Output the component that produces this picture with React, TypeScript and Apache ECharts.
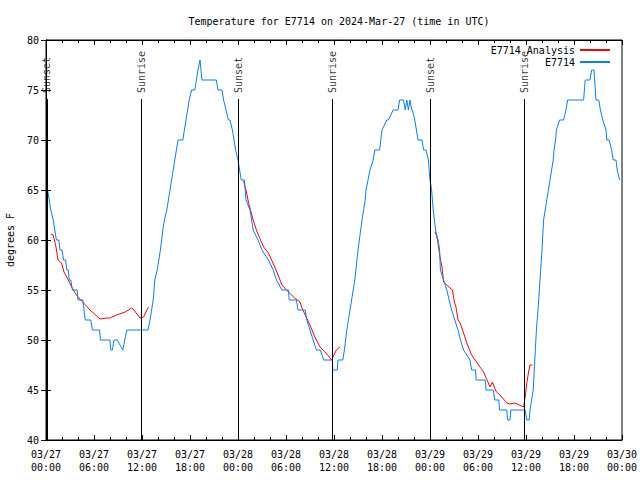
import React, { useEffect, useRef } from "react";
import * as echarts from "echarts";

// Time in hours since 03/27 00:00 UTC
const xTickLabels = [
  "03/27\n00:00", "03/27\n06:00", "03/27\n12:00", "03/27\n18:00",
  "03/28\n00:00", "03/28\n06:00", "03/28\n12:00", "03/28\n18:00",
  "03/29\n00:00", "03/29\n06:00", "03/29\n12:00", "03/29\n18:00",
  "03/30\n00:00",
];

const sunNames = ["Sunset", "Sunrise", "Sunset", "Sunrise", "Sunset", "Sunrise"];
const sunHours = [0.1, 11.95, 24.05, 35.8, 48.05, 59.8];

const observed: [number, number][] = [
  [0.2, 65], [0.4, 64], [0.6, 63], [0.9, 62], [1.1, 61], [1.3, 60], [1.6, 60], [1.75, 59], [2.0, 59],
  [2.2, 58], [2.45, 58], [2.6, 57], [2.8, 57], [2.9, 56], [3.1, 56], [3.3, 55], [3.9, 55], [4.0, 54],
  [4.6, 54], [4.9, 52], [5.6, 52], [5.8, 51], [6.7, 51], [6.8, 50], [8.0, 50], [8.1, 49], [8.3, 49],
  [8.5, 50], [8.9, 50], [9.6, 49], [10.1, 51], [12.75, 51],
  [13.0, 52], [13.2, 53], [13.4, 54], [13.6, 56], [13.9, 57], [14.1, 58], [14.3, 59], [14.6, 61],
  [14.8, 62], [15.1, 63], [15.3, 64], [15.5, 65], [15.7, 66], [15.9, 67], [16.1, 68], [16.3, 69],
  [16.5, 70], [17.1, 70], [17.3, 71], [17.5, 72], [17.7, 73], [17.9, 74], [18.2, 75], [18.6, 75],
  [18.8, 76], [19.0, 77], [19.25, 78], [19.5, 76], [21.3, 76], [21.5, 75], [22.0, 75], [22.2, 74],
  [22.5, 73], [22.8, 72], [23.0, 72], [23.3, 71], [23.5, 70], [23.7, 69], [24.0, 68], [24.2, 67],
  [24.4, 66], [24.8, 66], [25.0, 64], [25.5, 63], [25.9, 61], [26.5, 60], [27.0, 59], [27.8, 58],
  [28.4, 57], [28.8, 56], [29.5, 55], [30.3, 55], [30.4, 54], [31.3, 54], [31.5, 53], [32.4, 53],
  [32.6, 52], [33.0, 51], [33.4, 50], [33.8, 49], [34.3, 49], [34.7, 48], [35.8, 48], [35.85, 47],
  [36.4, 47], [36.5, 48], [37.1, 48], [37.3, 49], [37.6, 51], [37.8, 52], [38.2, 54], [38.6, 56],
  [39.0, 59], [39.5, 62], [39.9, 64], [40.0, 65], [40.5, 67], [40.9, 68], [41.1, 69], [41.7, 69],
  [42.0, 71], [42.6, 72], [42.8, 72], [43.4, 73], [44.0, 73], [44.2, 74], [44.7, 74], [44.9, 73],
  [45.1, 74], [45.3, 73], [45.5, 74], [45.7, 73], [45.8, 73], [46.1, 72], [46.5, 70], [47.0, 70],
  [47.2, 69], [47.5, 69], [47.8, 68], [48.0, 66], [48.2, 65], [48.3, 64], [48.4, 63], [48.7, 61],
  [49.0, 60], [49.2, 59], [49.3, 57], [49.7, 56], [50.1, 55], [50.4, 54], [50.7, 53], [51.1, 52],
  [51.5, 51], [51.8, 50], [52.2, 49], [53.0, 48], [53.2, 47], [53.7, 47], [53.75, 46], [54.9, 46],
  [55.0, 45], [55.9, 45], [56.1, 44], [56.6, 44], [56.7, 43], [57.6, 43], [57.7, 42], [58.0, 42],
  [58.1, 43], [59.9, 43], [60.1, 42], [60.4, 42], [60.5, 43], [60.7, 44], [60.9, 45], [61.1, 48],
  [61.3, 51], [61.5, 53], [61.75, 56], [62.0, 59], [62.2, 62], [62.4, 63], [62.6, 64], [62.8, 65],
  [63.0, 66], [63.2, 67], [63.4, 68], [63.5, 69], [63.7, 70], [63.8, 71], [64.2, 72], [64.7, 72],
  [65.0, 73], [65.2, 74], [67.2, 74], [67.4, 76], [68.0, 76], [68.2, 77], [68.5, 77], [68.75, 74],
  [69.1, 74], [69.3, 73], [69.6, 72], [70.0, 71], [70.1, 70], [70.4, 70], [70.7, 69], [70.9, 68],
  [71.25, 68], [71.4, 67], [71.7, 66],
];

const analysis: ([number, number] | [number, null])[] = [
  [0.6, 60.6], [0.9, 60.5], [1.25, 59.3], [1.5, 58], [1.95, 57.7], [2.25, 56.8], [2.8, 56],
  [3.2, 55.3], [3.8, 54.5], [4.7, 53.7], [5.5, 53], [6.75, 52.1], [7.6, 52.2], [8.0, 52.2],
  [8.8, 52.5], [9.9, 52.8], [10.7, 53.2], [10.9, 53.1], [11.75, 52.2], [12.2, 52.3], [12.8, 53.3],
  [18, null],
  [24.7, 65.9], [25.0, 65], [25.3, 63.8], [25.6, 62.9], [25.9, 62], [26.3, 61], [26.7, 60.2],
  [27.2, 59.3], [27.8, 58.7], [28.2, 58], [28.6, 57.3], [29.0, 56.5], [29.5, 55.5], [30.3, 54.8],
  [31.1, 54.2], [31.75, 53.8], [32.0, 53.2], [32.4, 52.5], [33.0, 51.5], [33.6, 50.3], [34.25, 49.3],
  [34.9, 48.8], [35.7, 48], [36.3, 49], [36.75, 49.3],
  [42, null],
  [48.6, 60.8], [48.8, 60.5], [49.0, 59.7], [49.25, 58.3], [49.5, 57.3], [49.7, 55.8], [50.1, 55.5],
  [50.5, 55.2], [50.8, 55], [51.05, 53.8], [51.25, 53.3], [51.5, 52], [51.75, 51.7], [52.2, 50.7],
  [52.6, 49.7], [53.2, 48.5], [53.8, 47.8], [54.7, 46.8], [55.5, 45.3], [55.8, 45.8], [56.3, 44.8],
  [56.75, 44.5], [57.6, 43.7], [58.0, 43.6], [58.6, 43.7], [59.7, 43.3], [59.9, 44.3], [60.1, 45.7],
  [60.3, 46.7], [60.5, 47.5], [60.8, 47.5],
];

const FONT = "DejaVu Sans Mono";

export default function App() {
  const ref = useRef<HTMLDivElement>(null);
  useEffect(() => {
    if (!ref.current) return;
    const chart = echarts.init(ref.current, undefined, { renderer: "svg" });
    const axisCommon = {
      type: "value" as const,
      axisLine: { show: true, lineStyle: { color: "#000", width: 1 } },
      splitLine: { show: false },
    };
    chart.setOption({
      animation: false,
      backgroundColor: "#fff",
      textStyle: { fontFamily: FONT },
      title: {
        text: "Temperature for E7714 on 2024-Mar-27 (time in UTC)",
        left: 334,
        textAlign: "center",
        top: 11,
        textStyle: { fontFamily: FONT, fontSize: 10, fontWeight: "normal", color: "#000" },
      },
      legend: {
        data: [
          { name: "E7714 Analysis", icon: "rect" },
          { name: "E7714", icon: "rect" },
        ],
        orient: "vertical",
        right: 25,
        top: 39,
        align: "right",
        itemWidth: 30,
        itemHeight: 2,
        itemGap: 0,
        textStyle: { fontFamily: FONT, fontSize: 10, color: "#000", lineHeight: 12, padding: [0, 0, 0, 1] },
      },
      grid: {
        left: 46,
        right: 18,
        top: 40,
        bottom: 40,
        show: true,
        borderColor: "#000",
        borderWidth: 1,
        containLabel: false,
        outerBoundsMode: "none",
      },
      xAxis: [
        {
          ...axisCommon,
          min: 0,
          max: 72,
          interval: 6,
          position: "bottom",
          axisTick: { show: true, inside: true, length: 5, lineStyle: { color: "#000" } },
          minorTick: { show: true, splitNumber: 3, length: 3, lineStyle: { color: "#000" } },
          axisLabel: {
            fontFamily: FONT,
            fontSize: 10,
            color: "#000",
            lineHeight: 13,
            margin: 8,
            formatter: (v: number) => xTickLabels[Math.round(v / 6)] ?? "",
          },
        },
        {
          ...axisCommon,
          min: 0,
          max: 72,
          interval: 6,
          position: "top",
          axisTick: { show: true, inside: true, length: 5, lineStyle: { color: "#000" } },
          minorTick: { show: true, splitNumber: 3, length: 3, lineStyle: { color: "#000" } },
          axisLabel: { show: false },
        },
      ],
      yAxis: [
        {
          ...axisCommon,
          min: 40,
          max: 80,
          interval: 5,
          position: "left",
          name: "degrees F",
          nameLocation: "middle",
          nameGap: 31,
          nameTextStyle: { fontFamily: FONT, fontSize: 10, color: "#000" },
          axisTick: { show: true, inside: true, length: 5, lineStyle: { color: "#000" } },
          axisLabel: { fontFamily: FONT, fontSize: 10, color: "#000", margin: 7 },
        },
        {
          ...axisCommon,
          min: 40,
          max: 80,
          interval: 5,
          position: "right",
          axisTick: { show: true, inside: true, length: 5, lineStyle: { color: "#000" } },
          axisLabel: { show: false },
        },
      ],
      series: [
        {
          name: "E7714 Analysis",
          type: "line",
          data: analysis,
          showSymbol: false,
          symbol: "none",
          connectNulls: false,
          lineStyle: { color: "#ff0000", width: 1 },
          itemStyle: { color: "#ff0000" },
          z: 2,
        },
        {
          name: "E7714",
          type: "line",
          data: observed,
          showSymbol: false,
          symbol: "none",
          lineStyle: { color: "#0080ff", width: 1 },
          itemStyle: { color: "#0080ff" },
          z: 3,
        },
        {
          name: "sun",
          type: "scatter",
          symbolSize: 0,
          silent: true,
          data: sunHours.map((h, i) => ({ value: [h, 74.6], name: sunNames[i] })),
          label: {
            show: true,
            position: "inside",
            rotate: 90,
            align: "left",
            verticalAlign: "middle",
            offset: [1, 0],
            formatter: (p: any) => p.name,
            fontFamily: FONT,
            fontSize: 10,
            color: "#000",
          },
          markLine: {
            silent: true,
            symbol: ["none", "none"],
            label: { show: false },
            lineStyle: { color: "#000", width: 1, type: "solid" },
            data: sunHours.map((h) => [{ coord: [h, 40] }, { coord: [h, 74.1] }]),
          },
          z: 1,
        },
      ],
    });
    return () => chart.dispose();
  }, []);
  return (
    <div
      ref={ref}
      style={{ position: "absolute", left: 0, top: 0, width: 640, height: 480 }}
    />
  );
}
